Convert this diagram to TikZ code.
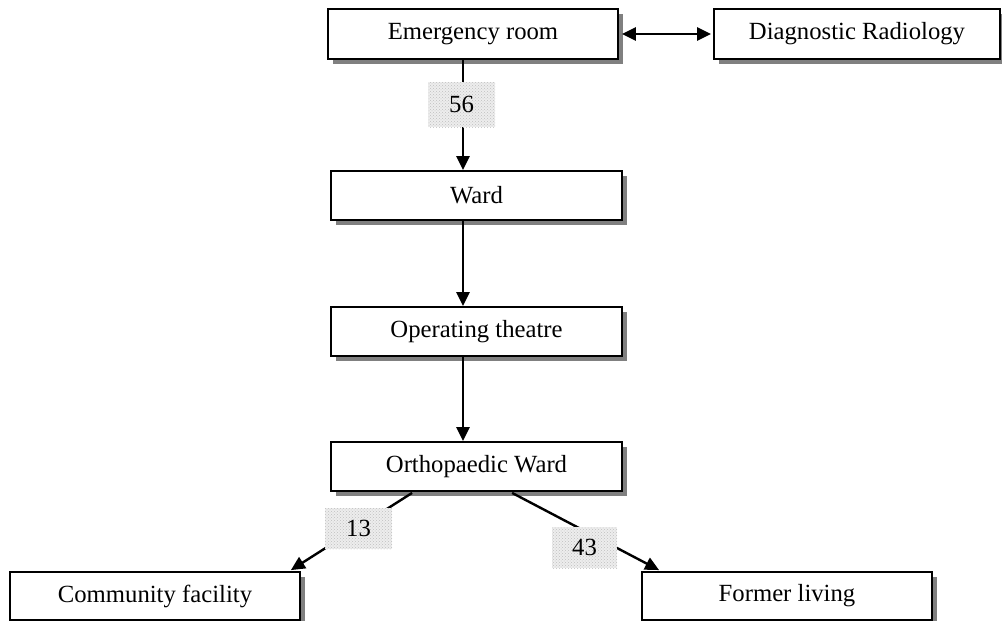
\documentclass[tikz,border=0pt]{standalone}
\usepackage{fontspec}
\setmainfont{Liberation Serif}
\usetikzlibrary{shadows,arrows.meta,patterns,calc}
\begin{document}
\begin{tikzpicture}[x=1pt,y=-1pt,
  box/.style={draw, line width=1.8pt, fill=white, minimum height=49pt, inner sep=0pt,
    font=\fontsize{24.7}{28}\selectfont,
    drop shadow={shadow xshift=5pt, shadow yshift=-5pt, fill=black!50, opacity=1}},
  lbl/.style={fill=black!7, postaction={pattern=crosshatch dots, pattern color=black!25},
    inner sep=0pt, font=\fontsize{24.7}{28}\selectfont},
  tip/.tip={Triangle[length=14pt,width=13pt]},
  arr/.style={line width=2.4pt, -tip},
  darr/.style={line width=2.4pt, tip-tip},
]
\useasboundingbox (0,0) rectangle (1002,621);
\node[box, minimum width=290pt, minimum height=50pt] (er) at (473,34) {Emergency room};
\node[box, minimum width=286pt, minimum height=50pt] (dr) at (857,34) {Diagnostic Radiology};
\node[box, minimum width=291pt] (ward) at (476.5,195.5) {Ward};
\node[box, minimum width=291pt] (ot) at (476.5,331.5) {Operating theatre};
\node[box, minimum width=291pt] (ow) at (476.5,466.5) {Orthopaedic Ward};
\node[box, minimum width=290pt, minimum height=48pt] (cf) at (155,596) {Community facility};
\node[box, minimum width=290pt, minimum height=48pt] (fl) at (787,596) {Former living};
\coordinate (cx) at (463,0);
\draw[darr] ($(er.east)+(3,0)$) -- ($(dr.west)+(-2,0)$);
\draw[arr] (er.south -| cx) -- (ward.north -| cx);
\draw[arr] (ward.south -| cx) -- (ot.north -| cx);
\draw[arr] (ot.south -| cx) -- (ow.north -| cx);
\draw[arr] ($(ow.south west)+(82,1)$) -- ($(cf.north east)+(-10,-1)$);
\draw[arr] ($(ow.south west)+(182,1)$) -- ($(fl.north west)+(18,-1)$);
\node[lbl, minimum width=67pt, minimum height=45pt] (l56) at (461.5,104.5) {56};
\node[lbl, minimum width=67pt, minimum height=41pt] (l13) at (358.5,528.5) {13};
\node[lbl, minimum width=65pt, minimum height=41pt] (l43) at (584.5,547.5) {43};
\end{tikzpicture}
\end{document}
